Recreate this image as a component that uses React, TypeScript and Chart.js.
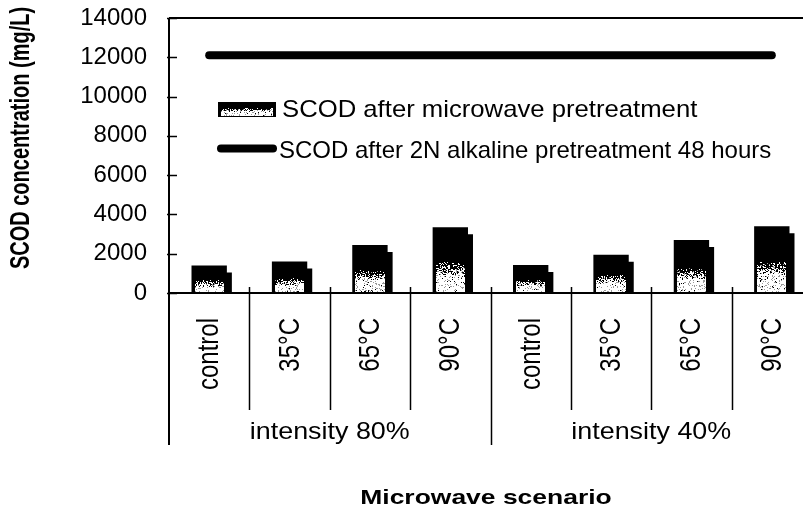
import React, { useEffect, useRef } from "react";
import { Chart, registerables } from "chart.js";

Chart.register(...registerables);

// Microwave scenarios (x axis) and their intensity groups
const scenarios = ["control", "35°C", "65°C", "90°C", "control", "35°C", "65°C", "90°C"];
const intensityGroups = ["intensity 80%", "intensity 40%"];

// SCOD (mg/L)
const microwaveScod = [1400, 1600, 2450, 3350, 1420, 1950, 2700, 3400];
const alkalineScod = [12100, 12100, 12100, 12100, 12100, 12100, 12100, 12100];

const yTicks = [0, 2000, 4000, 6000, 8000, 10000, 12000, 14000];

const seriesNames = [
  "SCOD after microwave pretreatment",
  "SCOD after 2N alkaline pretreatment 48 hours",
];
const yTitle = "SCOD concentration (mg/L)";
const xTitle = "Microwave scenario";

const FONT = "'Liberation Sans', Arial, Helvetica, sans-serif";

// deterministic per-pixel hash used for the stippled fill
function hash(x: number, y: number): number {
  let h = Math.imul(x, 374761393) + Math.imul(y, 668265263);
  h = Math.imul(h ^ (h >>> 13), 1274126177);
  h = h ^ (h >>> 16);
  return ((h >>> 0) % 1000) / 1000;
}

// light stipple in the lower part of a bar, fading into black
function stipple(ctx: CanvasRenderingContext2D, left: number, right: number, top: number, bottom: number, fullTop: number) {
  const white: [number, number][] = [];
  const grey: [number, number][] = [];
  const h = bottom - fullTop;
  for (let py = Math.round(top); py < Math.round(bottom); py++) {
    const t = (bottom - py) / h;
    const p = t < 0.25 ? 0.97 : t < 0.48 ? 0.97 - ((t - 0.25) / 0.23) * 0.92 : 0;
    if (p <= 0) continue;
    for (let px = Math.round(left); px < Math.round(right); px++) {
      const r = hash(px, py);
      if (r < p * 0.85) white.push([px, py]);
      else if (r < p) grey.push([px, py]);
    }
  }
  ctx.fillStyle = "#ffffff";
  for (const [px, py] of white) ctx.fillRect(px, py, 1, 1);
  ctx.fillStyle = "#9a9a9a";
  for (const [px, py] of grey) ctx.fillRect(px, py, 1, 1);
}

function text(
  ctx: CanvasRenderingContext2D,
  s: string,
  x: number,
  y: number,
  font: string,
  align: CanvasTextAlign,
  rot = 0,
  sx = 1
) {
  ctx.save();
  ctx.translate(x, y);
  ctx.scale(sx, 1);
  ctx.rotate(rot);
  ctx.font = font;
  ctx.fillStyle = "#000";
  ctx.textAlign = align;
  ctx.textBaseline = "middle";
  ctx.fillText(s, 0, 0);
  ctx.restore();
}

const BAR_INDEX = 1;

const decorations = {
  id: "decorations",
  beforeDatasetDraw(chart: any, args: any) {
    if (args.index !== BAR_INDEX) return;
    const ctx = chart.ctx;
    ctx.save();
    ctx.shadowColor = "#000";
    ctx.shadowBlur = 0;
    ctx.shadowOffsetX = 5;
    ctx.shadowOffsetY = 7;
  },
  afterDatasetDraw(chart: any, args: any) {
    if (args.index !== BAR_INDEX) return;
    const ctx = chart.ctx;
    ctx.restore();
    const area = chart.chartArea;
    ctx.save();
    ctx.beginPath();
    ctx.rect(area.left, area.top, area.right - area.left, area.bottom - area.top);
    ctx.clip();
    for (const el of args.meta.data) {
      const { x, y, base, width } = el.getProps(["x", "y", "base", "width"], true);
      stipple(ctx, x - width / 2 + 3, x + width / 2 - 3, y + 3, base, y);
    }
    ctx.restore();
  },
  afterDraw(chart: any) {
    const ctx = chart.ctx;
    const area = chart.chartArea;
    const xs = chart.scales.x;
    const ys = chart.scales.y;
    const catW = xs.getPixelForValue(1) - xs.getPixelForValue(0);
    const edge = (k: number) => xs.getPixelForValue(k) - catW / 2;
    const W = chart.width;

    ctx.save();
    ctx.strokeStyle = "#000";
    ctx.lineCap = "butt";

    // frame: left axis, top border, base line
    ctx.lineWidth = 2;
    ctx.beginPath();
    ctx.moveTo(area.left, area.top);
    ctx.lineTo(area.left, 445);
    ctx.moveTo(area.left, area.top);
    ctx.lineTo(W, area.top);
    ctx.moveTo(area.left, area.bottom);
    ctx.lineTo(W, area.bottom);
    ctx.stroke();

    // inward y ticks
    ctx.lineWidth = 1.5;
    ctx.beginPath();
    for (const v of yTicks) {
      const py = Math.round(ys.getPixelForValue(v)) + 0.5;
      ctx.moveTo(area.left - 2, py);
      ctx.lineTo(area.left + 8, py);
    }
    ctx.stroke();

    // category separators
    ctx.lineWidth = 1.5;
    ctx.beginPath();
    for (let k = 1; k <= scenarios.length; k++) {
      const px = Math.round(edge(k)) + 0.5;
      const major = k % 4 === 0;
      ctx.moveTo(px, area.bottom - 6);
      ctx.lineTo(px, major ? 445 : 410);
    }
    ctx.stroke();
    ctx.restore();

    // scenario labels (rotated)
    scenarios.forEach((s, i) => {
      text(ctx, s, xs.getPixelForValue(i) + 1, 318, `24px ${FONT}`, "right", -Math.PI / 2, 1.2);
    });

    // intensity group labels
    intensityGroups.forEach((g, gi) => {
      const cx = (edge(gi * 4) + edge(gi * 4 + 4)) / 2;
      text(ctx, g, cx, 432, `24px ${FONT}`, "center", 0, 1.12);
    });

    // axis titles
    text(ctx, xTitle, 486, 498, `bold 21px ${FONT}`, "center", 0, 1.26);
    text(ctx, yTitle, 22, 138, `bold 20px ${FONT}`, "center", -Math.PI / 2, 1.35);

    // legend
    ctx.save();
    ctx.fillStyle = "#000";
    ctx.fillRect(218, 102, 58, 15);
    stipple(ctx, 221, 273, 104, 116, 98);
    ctx.strokeStyle = "#000";
    ctx.lineWidth = 8;
    ctx.lineCap = "round";
    ctx.beginPath();
    ctx.moveTo(221, 148.5);
    ctx.lineTo(273, 148.5);
    ctx.stroke();
    ctx.restore();
    text(ctx, seriesNames[0], 282, 110, `24px ${FONT}`, "left", 0, 1.07);
    text(ctx, seriesNames[1], 279, 151, `24px ${FONT}`, "left", 0, 1.0);
  },
};

export default function App() {
  const canvasRef = useRef<HTMLCanvasElement | null>(null);

  useEffect(() => {
    const canvas = canvasRef.current;
    if (!canvas) return;
    const chart = new Chart(canvas, {
      type: "bar",
      data: {
        labels: scenarios,
        datasets: [
          {
            type: "line",
            label: seriesNames[1],
            data: alkalineScod,
            borderColor: "#000",
            backgroundColor: "#000",
            borderWidth: 8,
            borderCapStyle: "round",
            pointRadius: 0,
            pointHoverRadius: 0,
            fill: false,
          },
          {
            type: "bar",
            label: seriesNames[0],
            data: microwaveScod,
            backgroundColor: "#000",
            borderWidth: 0,
            barPercentage: 0.44,
            categoryPercentage: 1,
            clip: 0,
          },
        ],
      } as any,
      options: {
        responsive: false,
        animation: false,
        events: [],
        layout: { padding: { top: 18, right: 2, left: 0, bottom: 0 } },
        plugins: {
          legend: { display: false },
          tooltip: { enabled: false },
        },
        scales: {
          x: {
            grid: { display: false, drawTicks: false },
            border: { display: false },
            ticks: { display: false },
            afterFit: (s: any) => {
              s.height = 227;
              s.paddingLeft = 0;
              s.paddingRight = 0;
            },
          },
          y: {
            min: 0,
            max: 14000,
            afterBuildTicks: (s: any) => {
              s.ticks = yTicks.map((v) => ({ value: v }));
            },
            ticks: {
              color: "#000",
              font: { family: FONT, size: 24 },
              padding: 22,
              callback: (v: any) => String(v),
            },
            grid: { display: false, drawTicks: false },
            border: { display: false },
            afterFit: (s: any) => {
              s.width = 169;
              s.paddingTop = 0;
              s.paddingBottom = 0;
            },
          },
        },
      } as any,
      plugins: [decorations],
    });
    return () => chart.destroy();
  }, []);

  return (
    <div style={{ position: "fixed", left: 0, top: 0, width: 803, height: 520, overflow: "hidden", background: "#fff" }}>
      <canvas ref={canvasRef} width={814} height={520} style={{ display: "block" }} />
    </div>
  );
}
